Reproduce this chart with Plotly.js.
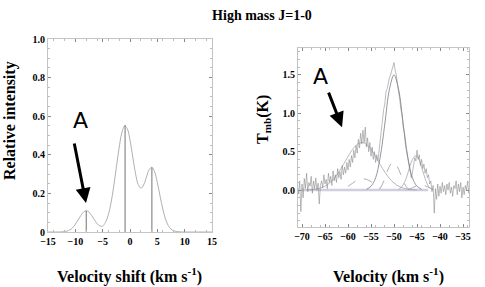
<!DOCTYPE html>
<html>
<head>
<meta charset="utf-8">
<script src="https://cdn.plot.ly/plotly-3.0.1.min.js"></script>
<style>html,body{margin:0;padding:0;background:#fff}#chart{width:485px;height:287px}</style>
</head>
<body>
<div id="chart"></div>
<script>
// ---- Left panel: relative intensity of hyperfine components ----
const leftVel = [-15,-14,-13,-12,-11.5,-11,-10.5,-10,-9.5,-9,-8.5,-8,-7.5,-7,-6.5,-6,-5.5,-5,-4.5,-4,-3.5,-3,-2.5,-2,-1.5,-1,-0.5,0,0.5,1,1.5,2,2.5,3,3.5,4,4.5,5,5.5,6,6.5,7,7.5,8,9,10,12,15];
const leftInt = [0,0,0,0.002,0.005,0.011,0.022,0.040,0.062,0.085,0.103,0.110,0.103,0.085,0.063,0.043,0.031,0.031,0.049,0.086,0.147,0.232,0.334,0.434,0.513,0.549,0.535,0.476,0.39,0.305,0.246,0.227,0.244,0.284,0.323,0.335,0.312,0.256,0.186,0.119,0.067,0.033,0.015,0.006,0.001,0,0,0];
const stickVel = [-8, -0.9, 4];
const stickInt = [0.11, 0.555, 0.335];
const leftXTicks = [-15,-10,-5,0,5,10,15];
const leftYTicks = [0,0.2,0.4,0.6,0.8,1.0];
const leftYLabels = ['0','0.2','0.4','0.6','0.8','1.0'];

// ---- Right panel: observed spectrum (Tmb vs velocity) ----
const specVel = [
-71.00,-70.75,-70.50,-70.25,-70.00,-69.75,-69.50,-69.25,-69.00,-68.75,
-68.50,-68.25,-68.00,-67.75,-67.50,-67.25,-67.00,-66.75,-66.50,-66.25,
-66.00,-65.75,-65.50,-65.25,-65.00,-64.75,-64.50,-64.25,-64.00,-63.75,
-63.50,-63.25,-63.00,-62.75,-62.50,-62.25,-62.00,-61.75,-61.50,-61.25,
-61.00,-60.75,-60.50,-60.25,-60.00,-59.75,-59.50,-59.25,-59.00,-58.75,
-58.50,-58.25,-58.00,-57.75,-57.50,-57.25,-57.00,-56.75,-56.50,-56.25,
-56.00,-55.75,-55.50,-55.25,-55.00,-54.75,-54.50,-54.25,-54.00,-53.75,
-53.50,-53.25,-53.00,-52.75,-52.50,-52.25,-52.00,-51.75,-51.50,-51.25,
-51.00,-50.75,-50.50,-50.25,-50.00,-49.75,-49.50,-49.25,-49.00,-48.75,
-48.50,-48.25,-48.00,-47.75,-47.50,-47.25,-47.00,-46.75,-46.50,-46.25,
-46.00,-45.75,-45.50,-45.25,-45.00,-44.75,-44.50,-44.25,-44.00,-43.75,
-43.50,-43.25,-43.00,-42.75,-42.50,-42.25,-42.00,-41.75,-41.50,-41.25,
-41.00,-40.75,-40.50,-40.25,-40.00,-39.75,-39.50,-39.25,-39.00,-38.75,
-38.50,-38.25,-38.00,-37.75,-37.50,-37.25,-37.00,-36.75,-36.50,-36.25,
-36.00,-35.75,-35.50,-35.25,-35.00,-34.75,-34.50,-34.25,-34.00,-33.75,
-33.50];
const specTmb = [
0.05,-0.05,0.12,-0.28,0.08,-0.10,0.15,0.02,0.22,-0.02,
0.10,0.05,0.18,-0.04,0.12,0.02,0.16,0.00,0.09,-0.18,
0.06,0.12,0.03,0.20,0.08,0.14,0.02,0.22,0.10,0.18,
0.06,0.25,0.12,0.20,0.10,0.28,0.16,0.24,0.14,0.32,
0.20,0.30,0.22,0.36,0.26,0.40,0.30,0.45,0.36,0.52,
0.42,0.58,0.48,0.66,0.55,0.74,0.60,0.78,0.62,0.82,
0.56,0.68,0.50,0.62,0.44,0.56,0.40,0.50,0.36,0.46,
0.38,0.52,0.60,0.78,0.88,1.05,1.12,1.28,1.32,1.42,
1.46,1.50,1.55,1.60,1.66,1.56,1.50,1.38,1.30,1.18,
1.05,0.98,0.82,0.74,0.58,0.50,0.40,0.30,0.24,0.16,
0.22,0.30,0.42,0.38,0.52,0.40,0.46,0.32,0.40,0.28,
0.34,0.22,0.28,0.16,0.20,0.08,0.12,-0.02,0.06,-0.30,
0.02,-0.12,0.08,-0.08,0.05,-0.04,0.10,-0.02,0.06,-0.06,
0.08,0.00,0.10,-0.04,0.04,-0.08,0.06,0.02,0.12,-0.06,
0.08,-0.02,0.10,-0.10,0.04,-0.06,0.06,0.00,0.12,-0.04,
0.08];

// Fitted components (solid)
const fitMainVel = [-56,-55,-54,-53,-52,-51,-50,-49,-48,-47,-46,-45,-44];
const fitMainTmb = [0.01,0.05,0.16,0.43,0.86,1.31,1.5,1.31,0.86,0.43,0.16,0.05,0.01];
const fitBroadVel = [-69,-68,-67,-66,-65,-64,-63,-62,-61,-60,-59,-58,-57,-56,-55,-54,-53,-52,-51,-50,-49,-48,-47,-46,-45];
const fitBroadTmb = [0.002,0.006,0.013,0.027,0.052,0.093,0.154,0.235,0.333,0.437,0.532,0.596,0.62,0.596,0.532,0.437,0.333,0.235,0.154,0.093,0.052,0.027,0.013,0.006,0.002];
const fitRedVel = [-49,-48.5,-48,-47.5,-47,-46.5,-46,-45.5,-45,-44.5,-44,-43.5,-43,-42.5,-42,-41.5];
const fitRedTmb = [0.01,0.03,0.07,0.13,0.22,0.32,0.40,0.44,0.44,0.39,0.30,0.20,0.11,0.05,0.02,0.006];
// Hyperfine satellite components (dashed)
const hfA_Vel = [-60,-59,-58,-57,-56,-55,-54,-53];
const hfA_Tmb = [0.05,0.09,0.13,0.15,0.14,0.11,0.06,0.02];
const hfB_Vel = [-53,-52.5,-52,-51.5,-51,-50.5,-50,-49.5,-49,-48.5,-48,-47.5,-47];
const hfB_Tmb = [0.02,0.08,0.15,0.24,0.31,0.35,0.36,0.33,0.27,0.20,0.12,0.06,0.02];
const hfC_Vel = [-47,-46,-45,-44,-43,-42];
const hfC_Tmb = [0.01,0.03,0.06,0.07,0.05,0.02];
const baseVel = [-70.2,-42.6];
const baseTmb = [0,0];
const rightXTicks = [-70,-65,-60,-55,-50,-45,-40,-35];
const rightYTicks = [-0.5,0,0.5,1.0,1.5];
const rightYLabels = ['-0.5','0.0','0.5','1.0','1.5'];

// build stick segments from stick arrays
const stickX = [], stickY = [];
stickVel.forEach((v,i)=>{ stickX.push(v,v,null); stickY.push(0,stickInt[i],null); });

const serif = '"Times New Roman", "Liberation Serif", "DejaVu Serif", serif';
const tickFont = {family: serif, size: 10, color: '#000', weight: 700};
const frameCol = '#c4c4c4';

const traces = [
  {x: leftVel, y: leftInt, mode:'lines', line:{color:'#b0b0b0', width:1, shape:'spline'}, xaxis:'x', yaxis:'y', hoverinfo:'skip'},
  {x: stickX, y: stickY, mode:'lines', line:{color:'#8a8a8a', width:1.2}, xaxis:'x', yaxis:'y', hoverinfo:'skip'},
  {x: baseVel, y: baseTmb, mode:'lines', line:{color:'#cfcfe0', width:2.5}, xaxis:'x2', yaxis:'y2', hoverinfo:'skip'},
  {x: fitBroadVel, y: fitBroadTmb, mode:'lines', line:{color:'#9a9aa8', width:0.7, shape:'spline'}, xaxis:'x2', yaxis:'y2'},
  {x: fitRedVel, y: fitRedTmb, mode:'lines', line:{color:'#9a9aa8', width:0.7, shape:'spline'}, xaxis:'x2', yaxis:'y2'},
  {x: hfA_Vel, y: hfA_Tmb, mode:'lines', line:{color:'#8c8c8c', width:0.7, dash:'dash', shape:'spline'}, xaxis:'x2', yaxis:'y2'},
  {x: hfB_Vel, y: hfB_Tmb, mode:'lines', line:{color:'#8c8c8c', width:0.7, dash:'dash', shape:'spline'}, xaxis:'x2', yaxis:'y2'},
  {x: hfC_Vel, y: hfC_Tmb, mode:'lines', line:{color:'#8c8c8c', width:0.7, dash:'dash', shape:'spline'}, xaxis:'x2', yaxis:'y2'},
  {x: specVel, y: specTmb, mode:'lines', line:{color:'#858585', width:0.55}, xaxis:'x2', yaxis:'y2'},
  {x: fitMainVel, y: fitMainTmb, mode:'lines', line:{color:'#7a7a88', width:0.8, shape:'spline'}, xaxis:'x2', yaxis:'y2'}
];

function ax(extra){
  return Object.assign({
    showgrid:false, zeroline:false, showline:true, linecolor:frameCol, linewidth:1, mirror:'ticks',
    ticks:'inside', ticklen:3, tickcolor:'#888', tickfont:tickFont, fixedrange:true,
    minor:{ticks:'inside', ticklen:2, tickcolor:'#bbb'}
  }, extra);
}

const titleFont = {family:serif, size:16, color:'#000', weight:700};

const layout = {
  width:485, height:287, margin:{l:0,r:0,t:0,b:0},
  paper_bgcolor:'#fff', plot_bgcolor:'#fff', showlegend:false,
  font:{family:serif},
  title:{text:'High mass J=1-0', x:262/485, y:1-15/287, xanchor:'center', yanchor:'middle', xref:'paper', yref:'paper',
         font:{family:serif, size:14, color:'#000', weight:700}},
  xaxis: ax({domain:[48/485, 212/485], range:[-15,15], tickvals:leftXTicks, anchor:'y'}),
  yaxis: ax({domain:[1-232/287, 1-39/287], range:[0,1.0], tickvals:leftYTicks, ticktext:leftYLabels, anchor:'x'}),
  xaxis2: ax({domain:[298/485, 469/485], range:[-70.87,-33.7], tickvals:rightXTicks, anchor:'y2'}),
  yaxis2: ax({domain:[1-227/287, 1-48/287], range:[-0.48,1.85], tickvals:rightYTicks, ticktext:rightYLabels, anchor:'x2'}),
  annotations:[
    {xref:'paper', yref:'paper', x:10/485, y:1-121/287, text:'Relative intensity', textangle:-90, showarrow:false,
     font:titleFont, xanchor:'center', yanchor:'middle'},
    {xref:'paper', yref:'paper', x:129/485, y:1-275/287, text:'Velocity shift (km s<sup>-1</sup>)', showarrow:false,
     font:titleFont, xanchor:'center', yanchor:'middle'},
    {xref:'paper', yref:'paper', x:263/485, y:1-120/287, text:'T<sub>mb</sub>(K)', textangle:-90, showarrow:false,
     font:titleFont, xanchor:'center', yanchor:'middle'},
    {xref:'paper', yref:'paper', x:388/485, y:1-275/287, text:'Velocity (km s<sup>-1</sup>)', showarrow:false,
     font:titleFont, xanchor:'center', yanchor:'middle'},
    // "A" labels and arrows
    {xref:'x', yref:'y', x:-9.0, y:0.58, text:'A', showarrow:false, font:{family:'DejaVu Sans', size:22, color:'#000'}},
    {xref:'x', yref:'y', x:-8.05, y:0.15, text:'', showarrow:true, arrowhead:2, arrowsize:1, arrowwidth:3, arrowcolor:'#000',
     axref:'pixel', ayref:'pixel', ax:-12, ay:-61},
    {xref:'x2', yref:'y2', x:-65.9, y:1.48, text:'A', showarrow:false, font:{family:'DejaVu Sans', size:22, color:'#000'}},
    {xref:'x2', yref:'y2', x:-61.3, y:0.82, text:'', showarrow:true, arrowhead:2, arrowsize:1, arrowwidth:3, arrowcolor:'#000',
     axref:'pixel', ayref:'pixel', ax:-14, ay:-36}
  ]
};

Plotly.newPlot('chart', traces, layout, {staticPlot:true, displayModeBar:false});
</script>
</body>
</html>
